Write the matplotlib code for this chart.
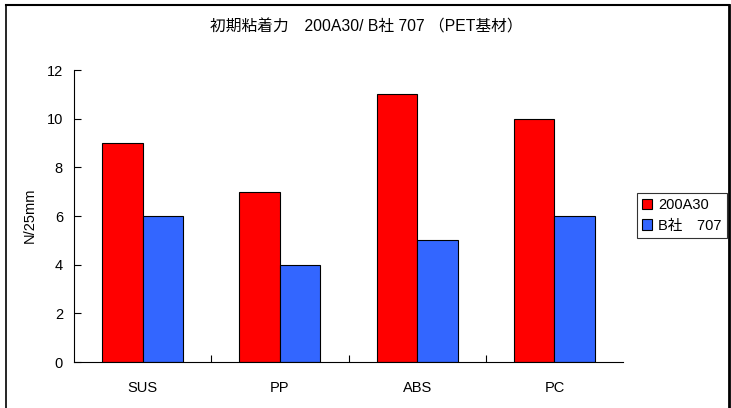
import matplotlib
matplotlib.use("Agg")
import matplotlib.pyplot as plt
from matplotlib.lines import Line2D
import numpy as np

plt.rcParams['font.family'] = ['Liberation Sans', 'Noto Sans CJK JP', 'DejaVu Sans']

categories = ["SUS", "PP", "ABS", "PC"]
series_names = ["200A30", "B社　707"]
values_200A30 = [9, 7, 11, 10]
values_B707 = [6, 4, 5, 6]
colors = ["#FF0000", "#3366FF"]
title = "初期粘着力　200A30/ B社 707 （PET基材）"
ylabel = "N/25mm"

fig = plt.figure(figsize=(7.31, 4.08), dpi=100)
ax = fig.add_axes([74/731, 1-362/408, (623-74)/731, (362-70)/408])

x = np.arange(len(categories))
w = 0.295
ax.bar(x - w/2, values_200A30, w, color=colors[0], edgecolor="black", linewidth=0.8, label=series_names[0])
ax.bar(x + w/2, values_B707, w, color=colors[1], edgecolor="black", linewidth=0.8, label=series_names[1])

ax.set_xlim(-0.5, len(categories) - 0.5)
ax.set_ylim(0, 12)
ax.set_yticks(range(0, 13, 2))
ax.set_xticks(x)
ax.set_xticklabels(categories)
ax.set_xticks(np.arange(0.5, len(categories) - 0.5, 1), minor=True)
ax.tick_params(axis='x', which='major', length=0, pad=14, labelsize=10.5)
ax.tick_params(axis='x', which='minor', direction='in', length=5, width=0.8)
ax.tick_params(axis='y', direction='in', length=5, width=0.8, labelsize=10.5, pad=8)
for s in ["top", "right"]:
    ax.spines[s].set_visible(False)
for s in ["left", "bottom"]:
    ax.spines[s].set_linewidth(0.8)

fig.text(30/731, 1-215/408, ylabel, rotation=90, ha='center', va='center', fontsize=10.5)
fig.text(366/731, 1-27/408, title, ha='center', va='center', fontsize=11.3)

leg = fig.legend(loc='upper left', bbox_to_anchor=(637/731, 1-193/408),
                 frameon=True, fancybox=False, edgecolor='black', fontsize=10.5,
                 handlelength=0.7, handleheight=0.7, handletextpad=0.4,
                 borderpad=0.35, labelspacing=0.45, borderaxespad=0)
leg.get_frame().set_linewidth(0.8)

# figure border
fig.add_artist(Line2D([6/731, 729/731], [1-4.5/408, 1-4.5/408], color='black', lw=1.5, transform=fig.transFigure))
fig.add_artist(Line2D([6/731, 6/731], [1-4.5/408, 0], color='black', lw=1.2, transform=fig.transFigure))
fig.add_artist(Line2D([729/731, 729/731], [1-4.5/408, 0], color='black', lw=2, transform=fig.transFigure))

fig.savefig("out.png", dpi=100)
